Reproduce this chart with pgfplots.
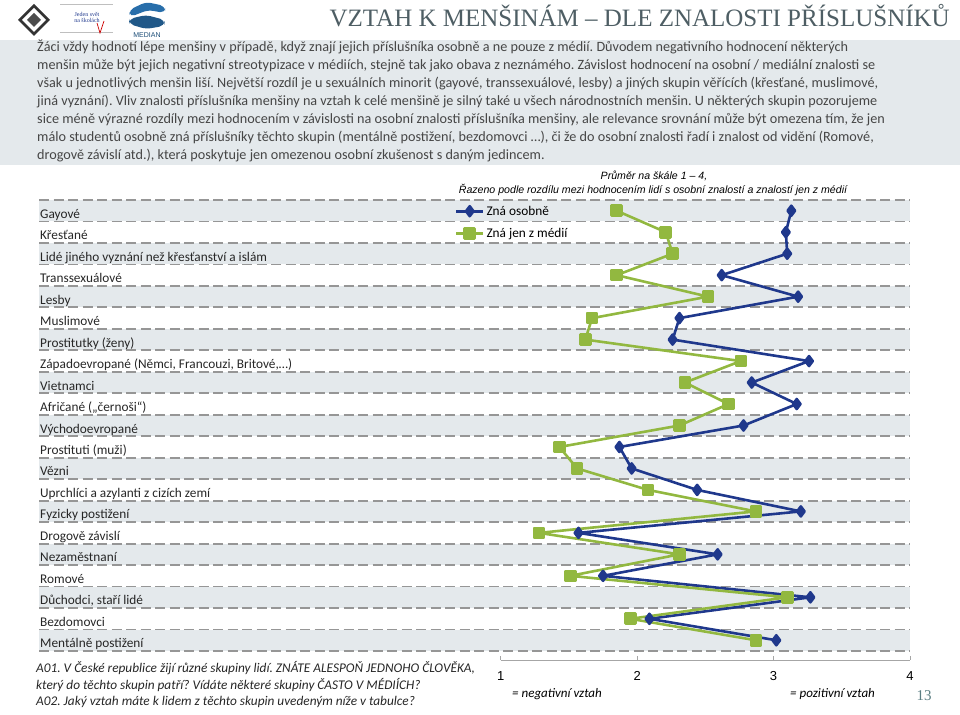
\documentclass[border=0pt]{standalone}
\usepackage{fontspec}
\setmainfont{Carlito}
\newfontfamily\arialf{Liberation Sans}
\newfontfamily\seriff{Liberation Serif}
\usepackage{pgfplots}
\pgfplotsset{compat=1.18}
\usepackage{pgfplotstable}
\frenchspacing
\definecolor{zblue}{RGB}{31,56,140}
\definecolor{zgreen}{RGB}{146,184,64}
\definecolor{band}{RGB}{228,233,236}
\definecolor{dashg}{RGB}{150,150,150}
\definecolor{titlec}{RGB}{78,94,100}
\definecolor{bodyc}{RGB}{70,70,70}
\definecolor{pagec}{RGB}{90,125,130}
\definecolor{logob}{RGB}{40,110,170}

\pgfplotstableread{
row osobne media
1 3.13 1.85
2 3.09 2.21
3 3.10 2.26
4 2.62 1.85
5 3.18 2.52
6 2.31 1.67
7 2.26 1.62
8 3.26 2.76
9 2.84 2.35
10 3.17 2.67
11 2.78 2.31
12 1.87 1.43
13 1.96 1.56
14 2.44 2.08
15 3.20 2.87
16 1.57 1.28
17 2.59 2.31
18 1.75 1.51
19 3.27 3.10
20 2.09 1.95
21 3.02 2.87
}\data

\pgfplotsset{
  mainframe/.style={
    at={(39bp,515bp)}, anchor=north west,
    scale only axis, width=871bp, height=451bp,
    xmin=-2.384, xmax=4, ymin=0.5, ymax=21.5, y dir=reverse,
    axis line style={draw=none}, xtick=\empty, major tick length=0pt,
    clip=false,
  }
}

\begin{document}
\begin{tikzpicture}
\path[use as bounding box] (0,0) rectangle (960bp,715bp);
% ---------- header ----------
\node[anchor=base east, text=titlec, font=\seriff\fontsize{25bp}{25bp}\selectfont, inner sep=0pt] at (950bp,688bp) {VZTAH K MENŠINÁM – DLE ZNALOSTI PŘÍSLUŠNÍKŮ};
% logo 1
\fill[black!80] (34bp,711bp) -- (50bp,695bp) -- (34bp,679bp) -- (18bp,695bp) -- cycle;
\fill[white] (34bp,707bp) -- (46bp,695bp) -- (34bp,683bp) -- (22bp,695bp) -- cycle;
\fill[black!70] (34bp,702bp) -- (41bp,695bp) -- (34bp,688bp) -- (27bp,695bp) -- cycle;
% logo 2
\draw[black!25, line width=0.8bp] (60bp,711bp) -- (113bp,711bp);
\draw[black!25, line width=0.8bp] (60bp,683bp) -- (113bp,683bp);
\node[font=\seriff\fontsize{6bp}{6bp}\selectfont, text=zblue, inner sep=0pt] at (87bp,701bp) {Jeden svět};
\node[font=\seriff\fontsize{6bp}{6bp}\selectfont, text=zblue, inner sep=0pt] at (87bp,695bp) {na školách};
\draw[red!80!black, line width=0.7bp] (97bp,692bp) -- (100bp,682bp) -- (104bp,694bp);
% logo 3
\fill[logob, rounded corners=5bp] (129bp,705bp) -- (146bp,713bp) -- (165bp,709bp) -- (165bp,702bp) -- (148bp,705bp) -- (130bp,698bp) -- cycle;
\fill[logob!80!black, rounded corners=5bp] (129bp,696bp) -- (146bp,700bp) -- (165bp,695bp) -- (164bp,689bp) -- (146bp,686bp) -- (129bp,691bp) -- cycle;
\node[font=\arialf\fontsize{7bp}{7bp}\selectfont, text=logob!70!black, inner sep=0pt] at (147bp,680bp) {MEDIAN};
% ---------- text block ----------
\fill[band] (0,550bp) rectangle (960bp,675bp);
\begin{scope}[every node/.style={anchor=base west, inner sep=0pt, text=bodyc, font=\fontsize{14.2bp}{16bp}\selectfont}]
\node at (37bp,663bp) {Žáci vždy hodnotí lépe menšiny v případě, když znají jejich příslušníka osobně a ne pouze z médií. Důvodem negativního hodnocení některých};
\node at (37bp,645bp) {menšin může být jejich negativní streotypizace v médiích, stejně tak jako obava z neznámého. Závislost hodnocení na osobní / mediální znalosti se};
\node at (37bp,627bp) {však u jednotlivých menšin liší. Největší rozdíl je u sexuálních minorit (gayové, transsexuálové, lesby) a jiných skupin věřících (křesťané, muslimové,};
\node at (37bp,609bp) {jiná vyznání). Vliv znalosti příslušníka menšiny na vztah k celé menšině je silný také u všech národnostních menšin. U některých skupin pozorujeme};
\node at (37bp,591bp) {sice méně výrazné rozdíly mezi hodnocením v závislosti na osobní znalosti příslušníka menšiny, ale relevance srovnání může být omezena tím, že jen};
\node at (37bp,573bp) {málo studentů osobně zná příslušníky těchto skupin (mentálně postižení, bezdomovci …), či že do osobní znalosti řadí i znalost od vidění (Romové,};
\node at (37bp,555bp) {drogově závislí atd.), která poskytuje jen omezenou osobní zkušenost s daným jedincem.};
\end{scope}
% subtitle
\node[anchor=base, inner sep=0pt, font=\arialf\itshape\fontsize{10.6bp}{12bp}\selectfont] at (654bp,535bp) {Průměr na škále 1 – 4,};
\node[anchor=base, inner sep=0pt, font=\arialf\itshape\fontsize{10.6bp}{12bp}\selectfont] at (653bp,521bp) {Řazeno podle rozdílu mezi hodnocením lidí s osobní znalostí a znalostí jen z médií};
% ---------- background axis: bands and dashed rules ----------
\begin{axis}[mainframe, ytick=\empty]
\fill[band] (axis cs:-2.384,0.5) rectangle (axis cs:4,1.5);
\fill[band] (axis cs:-2.384,2.5) rectangle (axis cs:4,3.5);
\fill[band] (axis cs:-2.384,4.5) rectangle (axis cs:4,5.5);
\fill[band] (axis cs:-2.384,6.5) rectangle (axis cs:4,7.5);
\fill[band] (axis cs:-2.384,8.5) rectangle (axis cs:4,9.5);
\fill[band] (axis cs:-2.384,10.5) rectangle (axis cs:4,11.5);
\fill[band] (axis cs:-2.384,12.5) rectangle (axis cs:4,13.5);
\fill[band] (axis cs:-2.384,14.5) rectangle (axis cs:4,15.5);
\fill[band] (axis cs:-2.384,16.5) rectangle (axis cs:4,17.5);
\fill[band] (axis cs:-2.384,18.5) rectangle (axis cs:4,19.5);
\fill[band] (axis cs:-2.384,20.5) rectangle (axis cs:4,21.5);
\pgfplotsinvokeforeach{0.5,1.5,...,21.5}{
  \draw[dashg, line width=1.8bp, dash pattern=on 10bp off 4.5bp] (axis cs:-2.384,#1) -- (axis cs:4,#1);
}
\addplot[draw=none] coordinates {(1,1)};
\end{axis}
% ---------- main axis ----------
\begin{axis}[
  mainframe,
  ytick={1,...,21},
  yticklabels={Gayové,Křesťané,Lidé jiného vyznání než křesťanství a islám,Transsexuálové,Lesby,Muslimové,Prostitutky (ženy),{Západoevropané (Němci, Francouzi, Britové,…)},Vietnamci,Afričané („černoši“),Východoevropané,Prostituti (muži),Vězni,Uprchlíci a azylanti z cizích zemí,Fyzicky postižení,Drogově závislí,Nezaměstnaní,Romové,{Důchodci, staří lidé},Bezdomovci,Mentálně postižení},
  yticklabel style={anchor=base west, inner sep=0pt, xshift=1bp, yshift=-7.5bp, font=\fontsize{13.3bp}{16bp}\selectfont, text=black!85},
  legend style={at={(axis cs:0.663,0.67)}, anchor=north west, draw=none, fill=none, inner sep=0pt, font=\fontsize{13.3bp}{16bp}\selectfont, row sep=7.5bp},
  legend cell align=left,
  legend image code/.code={\draw[mark repeat=2, mark phase=2, #1] plot coordinates {(0bp,0bp) (13.5bp,0bp) (27bp,0bp)};},
]
\addplot[zblue, line width=2.6bp, line join=round, mark=diamond*, mark size=5bp, mark options={solid}] table[x=osobne, y=row] {\data};
\addlegendentry{Zná osobně}
\addplot[zgreen, line width=2.6bp, line join=round, mark=square*, mark size=5bp, mark options={solid}] table[x=media, y=row] {\data};
\addlegendentry{Zná jen z médií}
\end{axis}
% ---------- bottom scale ----------
\begin{axis}[
  at={(500.7bp,55bp)}, anchor=south west,
  scale only axis, width=409.3bp, height=5bp,
  xmin=1, xmax=4, ymin=0, ymax=1,
  axis x line=bottom, axis y line=none,
  x axis line style={-, draw=black!35, line width=0.8bp},
  xtick={1,2,3,4}, tick align=inside, major tick length=4bp,
  xtick style={draw=black!35, line width=0.8bp},
  xticklabel style={font=\arialf\fontsize{13bp}{13bp}\selectfont, yshift=-8bp},
  /pgf/number format/assume math mode=true,
]
\addplot[draw=none] coordinates {(1,0)};
\end{axis}
\node[anchor=base west, inner sep=0pt, font=\itshape\fontsize{13bp}{16bp}\selectfont] at (512bp,18bp) {= negativní vztah};
\node[anchor=base west, inner sep=0pt, font=\itshape\fontsize{13bp}{16bp}\selectfont] at (790bp,18bp) {= pozitivní vztah};
\node[anchor=base, inner sep=0pt, text=pagec, font=\seriff\fontsize{15bp}{15bp}\selectfont] at (924bp,15bp) {13};
% footnotes
\begin{scope}[every node/.style={anchor=base west, inner sep=0pt, text=black!85, font=\itshape\fontsize{13.3bp}{16bp}\selectfont}]
\node at (36bp,42bp) {A01. V České republice žijí různé skupiny lidí. ZNÁTE ALESPOŇ JEDNOHO ČLOVĚKA,};
\node at (36bp,26bp) {který do těchto skupin patří? Vídáte některé skupiny ČASTO V MÉDIÍCH?};
\node at (36bp,10bp) {A02. Jaký vztah máte k lidem z těchto skupin uvedeným níže v tabulce?};
\end{scope}
\end{tikzpicture}
\end{document}
